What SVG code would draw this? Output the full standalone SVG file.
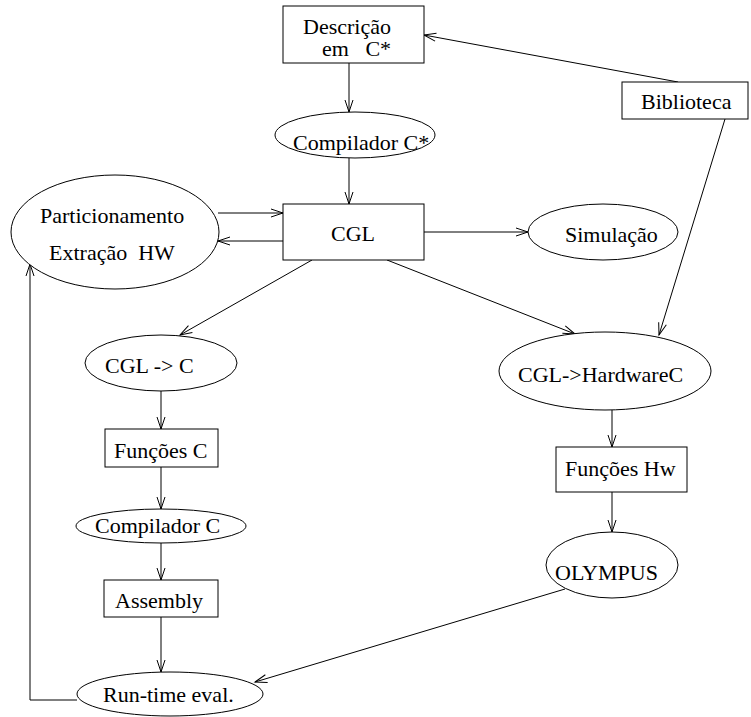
<svg xmlns="http://www.w3.org/2000/svg" width="751" height="717" viewBox="0 0 751 717">
  <defs>
    <marker id="arrow" markerUnits="userSpaceOnUse" markerWidth="14" markerHeight="10" refX="12" refY="4" orient="auto" overflow="visible">
      <path d="M0,0 L12,4 L0,8" fill="none" stroke="#000" stroke-width="1"/>
    </marker>
    <style>
      .shape { fill: #fff; stroke: #000; stroke-width: 1; }
      .lbl { font-size: 22px; fill: #000; }
      .edge { fill: none; stroke: #000; stroke-width: 1; marker-end: url(#arrow); }
    </style>
  </defs>
  <rect width="751" height="717" fill="#fff"/>

  <g id="connectors">
    <line class="edge" x1="678" y1="82" x2="424" y2="35"/>
    <line class="edge" x1="349" y1="63" x2="349" y2="112"/>
    <line class="edge" x1="349" y1="158" x2="349" y2="204"/>
    <line class="edge" x1="218" y1="213" x2="283" y2="213"/>
    <line class="edge" x1="283" y1="241" x2="218" y2="241"/>
    <line class="edge" x1="424" y1="232" x2="528" y2="232"/>
    <line class="edge" x1="312" y1="260" x2="180" y2="335"/>
    <line class="edge" x1="387" y1="260" x2="575" y2="334"/>
    <line class="edge" x1="725" y1="119" x2="659" y2="335"/>
    <line class="edge" x1="161" y1="391" x2="161" y2="429"/>
    <line class="edge" x1="161" y1="467" x2="161" y2="509"/>
    <line class="edge" x1="161" y1="543" x2="161" y2="580"/>
    <line class="edge" x1="161" y1="617" x2="161" y2="672"/>
    <line class="edge" x1="612" y1="410" x2="612" y2="447"/>
    <line class="edge" x1="612" y1="492" x2="612" y2="532"/>
    <line class="edge" x1="565" y1="589" x2="255" y2="682"/>
    <polyline class="edge" points="77,700 30,700 30,264"/>
  </g>

  <g font-family="'Liberation Serif', 'Times New Roman', serif">
    <g id="descricao">
      <rect class="shape" x="283" y="6" width="141" height="57"/>
      <text class="lbl" x="347" y="34" text-anchor="middle">Descrição</text>
      <text class="lbl" x="322" y="56" xml:space="preserve">em   C*</text>
    </g>

    <g id="biblioteca">
      <rect class="shape" x="622" y="82" width="126" height="37"/>
      <text class="lbl" x="641" y="109">Biblioteca</text>
    </g>

    <g id="compilador-cstar">
      <ellipse class="shape" cx="355" cy="135" rx="80" ry="23"/>
      <text class="lbl" x="293" y="150">Compilador C*</text>
    </g>

    <g id="particionamento">
      <ellipse class="shape" cx="115" cy="232" rx="104" ry="57"/>
      <text class="lbl" x="40" y="223">Particionamento</text>
      <text class="lbl" x="49" y="260" xml:space="preserve">Extração  HW</text>
    </g>

    <g id="cgl">
      <rect class="shape" x="283" y="204" width="141" height="56"/>
      <text class="lbl" x="353" y="241" text-anchor="middle">CGL</text>
    </g>

    <g id="simulacao">
      <ellipse class="shape" cx="603" cy="232" rx="75" ry="28"/>
      <text class="lbl" x="565" y="242">Simulação</text>
    </g>

    <g id="cgl-c">
      <ellipse class="shape" cx="161" cy="363" rx="76" ry="28"/>
      <text class="lbl" x="105" y="373">CGL -&gt; C</text>
    </g>

    <g id="cgl-hardwarec">
      <ellipse class="shape" cx="605" cy="371" rx="106" ry="39"/>
      <text class="lbl" x="518" y="382">CGL-&gt;HardwareC</text>
    </g>

    <g id="funcoes-c">
      <rect class="shape" x="105" y="429" width="113" height="38"/>
      <text class="lbl" x="114" y="458">Funções C</text>
    </g>

    <g id="funcoes-hw">
      <rect class="shape" x="556" y="447" width="131" height="45"/>
      <text class="lbl" x="565" y="476">Funções Hw</text>
    </g>

    <g id="compilador-c">
      <ellipse class="shape" cx="161" cy="526" rx="85" ry="17"/>
      <text class="lbl" x="95" y="533">Compilador C</text>
    </g>

    <g id="olympus">
      <ellipse class="shape" cx="612" cy="565" rx="66" ry="33"/>
      <text class="lbl" x="555" y="580">OLYMPUS</text>
    </g>

    <g id="assembly">
      <rect class="shape" x="104" y="580" width="114" height="37"/>
      <text class="lbl" x="115" y="608">Assembly</text>
    </g>

    <g id="runtime">
      <ellipse class="shape" cx="170" cy="694" rx="93" ry="22"/>
      <text class="lbl" x="103" y="702">Run-time eval.</text>
    </g>
  </g>
</svg>
